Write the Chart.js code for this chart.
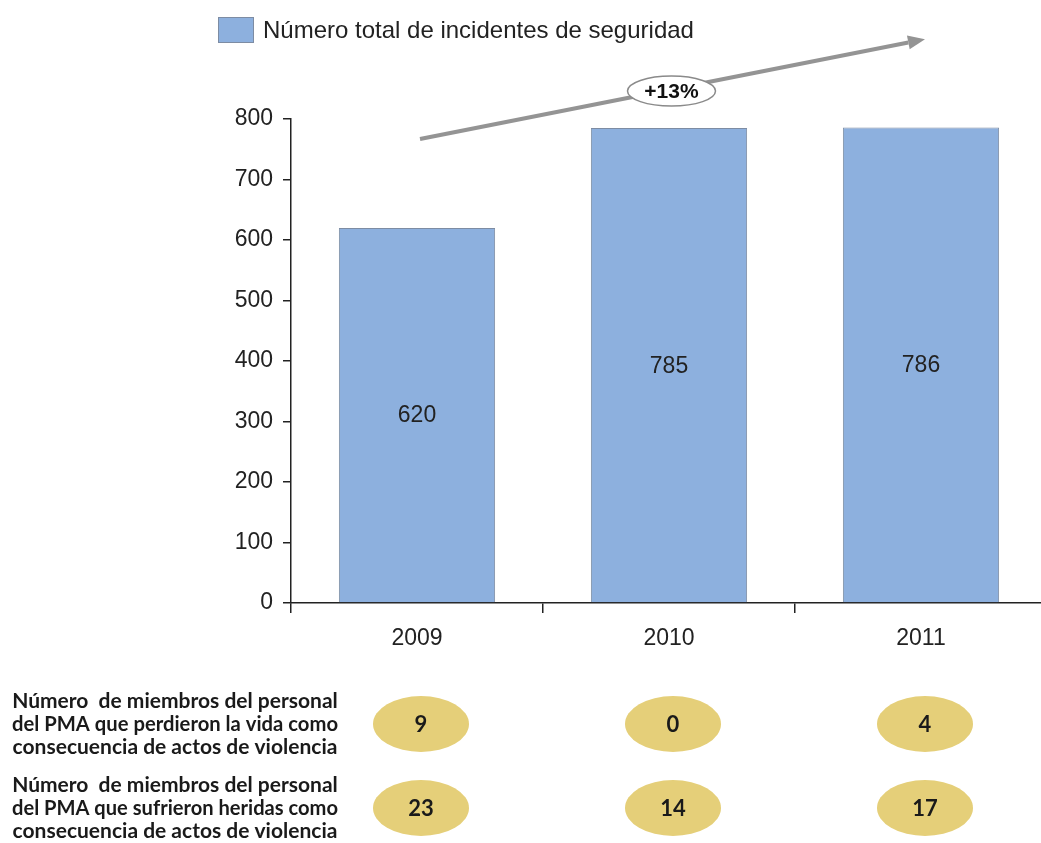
<!DOCTYPE html>
<html>
<head>
<meta charset="utf-8">
<title>Incidentes de seguridad</title>
<script src="https://cdn.jsdelivr.net/npm/chart.js"></script>
<style>
  body { margin: 0; background: #fff; overflow: hidden; }
  #wrap { width: 1041px; height: 843px; overflow: hidden; }
</style>
</head>
<body>
<div id="wrap"><canvas id="incidentChart" width="1048" height="843"></canvas></div>
<script>
// ---------- data ---------- //
const years = ["2009", "2010", "2011"];
const incidents = [620, 785, 786];
const staffKilled = [9, 0, 4];
const staffInjured = [23, 14, 17];
const yMax = 800;
const yStep = 100;
const legendLabel = "Número total de incidentes de seguridad";
const growthLabel = "+13%";
const killedLabel = [
  "Número  de miembros del personal",
  "del PMA que perdieron la vida como",
  "consecuencia de actos de violencia",
];
const injuredLabel = [
  "Número  de miembros del personal",
  "del PMA que sufrieron heridas como",
  "consecuencia de actos de violencia",
];

const barColor = "#8DB0DE";
const barBorder = "#7D8CA3";
const textColor = "#222";
const rowFont = "Lato, 'DejaVu Sans Condensed', sans-serif";

// value printed in the middle of each bar
const barValues = {
  id: "barValues",
  afterDatasetsDraw(chart) {
    const ctx = chart.ctx;
    const meta = chart.getDatasetMeta(0);
    ctx.save();
    ctx.font = "23px 'Liberation Sans', Arial, sans-serif";
    ctx.fillStyle = textColor;
    ctx.textAlign = "center";
    ctx.textBaseline = "middle";
    meta.data.forEach((bar, i) => {
      ctx.fillText(String(incidents[i]), bar.x, (bar.y + bar.base) / 2 + 1);
    });
    ctx.restore();
  },
};

// legend drawn by hand so it can sit at the top left
const topLegend = {
  id: "topLegend",
  afterDraw(chart) {
    const ctx = chart.ctx;
    const ds = chart.data.datasets[0];
    ctx.save();
    ctx.fillStyle = ds.backgroundColor;
    ctx.fillRect(218, 17, 35, 25);
    ctx.strokeStyle = ds.borderColor;
    ctx.lineWidth = 1;
    ctx.strokeRect(218.5, 17.5, 35, 25);
    ctx.font = "24px 'Liberation Sans', Arial, sans-serif";
    ctx.fillStyle = textColor;
    ctx.textBaseline = "middle";
    ctx.fillText(ds.label, 263, 31);
    ctx.restore();
  },
};

// grey trend arrow with the "+13%" bubble
const trendArrow = {
  id: "trendArrow",
  afterDraw(chart) {
    const ctx = chart.ctx;
    const x = chart.scales.x, y = chart.scales.y;
    const x0 = x.getPixelForValue(0) + 3, y0 = y.getPixelForValue(767);
    const x1 = x.getPixelForValue(2) + 4, y1 = y.getPixelForValue(932);
    const ang = Math.atan2(y1 - y0, x1 - x0);
    const head = 17, half = 7;
    ctx.save();
    ctx.strokeStyle = "#949494";
    ctx.fillStyle = "#949494";
    ctx.lineWidth = 4;
    ctx.beginPath();
    ctx.moveTo(x0, y0);
    ctx.lineTo(x1 - head * Math.cos(ang), y1 - head * Math.sin(ang));
    ctx.stroke();
    ctx.beginPath();
    ctx.moveTo(x1, y1);
    ctx.lineTo(x1 - head * Math.cos(ang) + half * Math.sin(ang), y1 - head * Math.sin(ang) - half * Math.cos(ang));
    ctx.lineTo(x1 - head * Math.cos(ang) - half * Math.sin(ang), y1 - head * Math.sin(ang) + half * Math.cos(ang));
    ctx.closePath();
    ctx.fill();

    const mx = (x0 + x1) / 2 - 1, my = (y0 + y1) / 2 + 2;
    ctx.beginPath();
    ctx.ellipse(mx, my, 44, 15, 0, 0, Math.PI * 2);
    ctx.fillStyle = "#fff";
    ctx.fill();
    ctx.strokeStyle = "#8a8a8a";
    ctx.lineWidth = 1.5;
    ctx.stroke();
    ctx.font = "bold 21px 'Liberation Sans', Arial, sans-serif";
    ctx.fillStyle = "#111";
    ctx.textAlign = "center";
    ctx.textBaseline = "middle";
    ctx.fillText(growthLabel, mx, my + 1);
    ctx.restore();
  },
};

// the two rows of yellow bubbles under the chart
const staffRows = {
  id: "staffRows",
  afterDraw(chart) {
    const ctx = chart.ctx;
    const x = chart.scales.x;
    const rows = [
      { values: staffKilled, label: killedLabel, cy: 724 },
      { values: staffInjured, label: injuredLabel, cy: 808 },
    ];
    ctx.save();
    rows.forEach((row) => {
      ctx.textAlign = "center";
      ctx.textBaseline = "middle";
      ctx.fillStyle = "#1a1a1a";
      ctx.font = "bold 21px " + rowFont;
      row.label.forEach((line, j) => {
        ctx.fillText(line, 175, row.cy + (j - 1) * 23, 326);
      });
      row.values.forEach((v, i) => {
        const cx = x.getPixelForValue(i) + 4;
        ctx.beginPath();
        ctx.ellipse(cx, row.cy, 48, 28, 0, 0, Math.PI * 2);
        ctx.fillStyle = "#E5CF79";
        ctx.fill();
        ctx.fillStyle = "#1a1a1a";
        ctx.font = "bold 22px " + rowFont;
        ctx.fillText(String(v), cx, row.cy + 1);
      });
    });
    ctx.restore();
  },
};

const ctx = document.getElementById("incidentChart").getContext("2d");
const incidentChart = new Chart(ctx, {
  type: "bar",
  data: {
    labels: years,
    datasets: [
      {
        label: legendLabel,
        data: incidents,
        backgroundColor: barColor,
        borderColor: barBorder,
        borderWidth: 1,
        categoryPercentage: 1,
        barPercentage: 0.62,
      },
    ],
  },
  options: {
    responsive: false,
    animation: false,
    devicePixelRatio: 1,
    layout: { padding: { top: 119, left: 0, right: 1, bottom: 190 } },
    plugins: {
      legend: { display: false },
      tooltip: { enabled: false },
    },
    scales: {
      x: {
        afterFit: (scale) => { scale.height = 50; },
        grid: { drawOnChartArea: false, drawTicks: true, tickLength: 10, color: "#222", lineWidth: 1.5 },
        border: { color: "#222", width: 1.5 },
        ticks: { color: textColor, padding: 12, font: { family: "'Liberation Sans', Arial, sans-serif", size: 23 } },
      },
      y: {
        min: 0,
        max: yMax,
        afterFit: (scale) => { scale.width = 291; },
        grid: { drawOnChartArea: false, drawTicks: true, tickLength: 8, color: "#222", lineWidth: 1.5 },
        border: { color: "#222", width: 1.5 },
        ticks: { stepSize: yStep, color: textColor, padding: 10, font: { family: "'Liberation Sans', Arial, sans-serif", size: 23 } },
      },
    },
  },
  plugins: [barValues, topLegend, trendArrow, staffRows],
});
</script>
</body>
</html>
